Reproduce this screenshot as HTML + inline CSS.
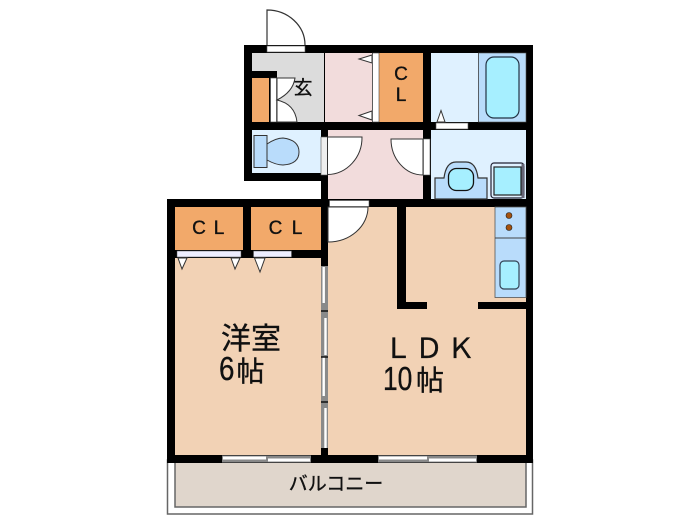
<!DOCTYPE html>
<html><head><meta charset="utf-8">
<style>
html,body{margin:0;padding:0;background:#fff;width:700px;height:525px;overflow:hidden}
svg{display:block;filter:blur(.35px)}
text{font-family:"Liberation Sans","Noto Sans CJK JP",sans-serif;fill:#111;stroke:#111;stroke-width:.35px}
</style></head><body>
<svg width="700" height="525" viewBox="0 0 700 525" xmlns="http://www.w3.org/2000/svg">
<!-- balcony -->
<rect x="167.500" y="460" width="365" height="54" fill="#fff" stroke="#666" stroke-width="1.500"/>
<rect x="175" y="460" width="351" height="47" fill="#e0d6cc" stroke="#666" stroke-width="1.500"/>
<!-- walls base -->
<path d="M244 45H533V463H167V199H321V181H244Z" fill="#000"/>
<!-- floors -->
<rect x="252" y="53" width="72" height="69" fill="#dcdcdc"/>
<rect x="325" y="53" width="47" height="69" fill="#f2dcdc"/>
<rect x="379" y="53" width="44" height="69" fill="#f2a96a"/>
<rect x="431" y="53" width="47" height="69" fill="#dff1ff"/>
<rect x="478.500" y="53" width="47.500" height="69" fill="#b9dcfb" stroke="#555" stroke-width=".6"/>
<rect x="252" y="130" width="69" height="43" fill="#dff1ff"/>
<rect x="328" y="130" width="95" height="69" fill="#f2dcdc"/>
<rect x="431" y="130" width="95" height="69" fill="#dff1ff"/>
<rect x="175" y="207" width="68" height="43" fill="#f2a96a"/>
<rect x="251" y="207" width="70" height="43" fill="#f2a96a"/>
<rect x="175" y="258" width="146" height="197" fill="#f2d2b5"/>
<rect x="328" y="207" width="198" height="248" fill="#f2d2b5"/>
<!-- genkan notch & shoe closet -->
<rect x="252" y="71" width="25" height="7" fill="#000"/>
<rect x="252" y="78" width="17" height="44" fill="#f2a96a"/>
<rect x="269" y="78" width="2" height="44" fill="#000"/>
<rect x="270.500" y="78" width="6" height="44" fill="#fff" stroke="#444" stroke-width=".6"/>
<path d="M277 78H295Q293 92 277 100Q295 104 297 122H277Z" fill="#fff" stroke="#333" stroke-width="1"/>
<!-- entry door -->
<rect x="267" y="46" width="38" height="6" fill="#fff" stroke="#555" stroke-width=".6"/>
<path d="M267 45V10A38 35 0 0 1 305 45" fill="#fff" stroke="#333" stroke-width="1.200"/>
<!-- closet folding door -->
<rect x="372.500" y="53" width="6.500" height="69" fill="#fff" stroke="#444" stroke-width=".6"/>
<path d="M372 55L359 59L372 63ZM372 111L359 115.500L372 120Z" fill="#fff" stroke="#333" stroke-width="1"/>
<!-- bath door -->
<rect x="436" y="123" width="32" height="6" fill="#fff" stroke="#555" stroke-width=".6"/>
<path d="M437 122L441 110.500L445 122Z" fill="#fff" stroke="#333" stroke-width="1"/>
<rect x="486" y="57" width="33" height="61" rx="8" fill="#a6efff" stroke="#234" stroke-width="1.200"/>
<!-- toilet -->
<rect x="321" y="137" width="6.500" height="38" fill="#eee" stroke="#555" stroke-width=".6"/>
<rect x="254" y="135.500" width="13" height="32" fill="#b9dcfb" stroke="#333" stroke-width="1"/>
<path d="M267 144Q276 138 283 138Q299 140 299 152Q299 164 283 165Q276 165 267 160Z" fill="#b9dcfb" stroke="#333" stroke-width="1"/>
<!-- hall doors -->
<path d="M327.500 137H362A35 37 0 0 1 327.500 174.500Z" fill="#fff" stroke="#333" stroke-width="1"/>
<path d="M423 139H391A32 36 0 0 0 423 175Z" fill="#fff" stroke="#333" stroke-width="1"/>
<rect x="423.500" y="139" width="6.500" height="36" fill="#fff" stroke="#555" stroke-width=".6"/>
<!-- washstand -->
<path d="M435 199V178H444Q446 162 456 162H466Q476 162 478 178H487V199Z" fill="#b9dcfb" stroke="#333" stroke-width="1.200"/>
<rect x="448.500" y="168.500" width="25" height="22" rx="8" fill="#a6efff" stroke="#111" stroke-width="1.300"/>
<rect x="491" y="163" width="33" height="35" rx="3" fill="#dff1ff" stroke="#223" stroke-width="1.200"/>
<rect x="521.500" y="164" width="3" height="34" fill="#667"/>
<rect x="494" y="167" width="27" height="28" fill="#a6efff" stroke="#222" stroke-width="1.200"/>
<!-- LDK door -->
<rect x="329.500" y="200.500" width="39.500" height="6" fill="#fff" stroke="#555" stroke-width=".6"/>
<path d="M328 207H368A40 35 0 0 1 328 242Z" fill="#fff" stroke="#333" stroke-width="1"/>
<!-- CL doors -->
<rect x="177" y="251" width="64" height="6" fill="#eef" stroke="#555" stroke-width=".5"/>
<rect x="253.500" y="251" width="38" height="6" fill="#eef" stroke="#555" stroke-width=".5"/>
<path d="M178 258L182 269L187 258ZM231 258L235 269L240 258ZM254.500 258L260 272L265 258Z" fill="#fff" stroke="#333" stroke-width="1"/>
<!-- sliding doors LDK / room -->
<rect x="321" y="266" width="7" height="182" fill="#8a8a8a"/>
<path d="M323.700 267V303M323.700 357V396" stroke="#fff" stroke-width="2.400"/>
<path d="M325.500 318V355M325.500 408V448" stroke="#fff" stroke-width="2.400"/>
<path d="M321 311H328M321 357H328M321 402H328" stroke="#111" stroke-width="1.400"/>
<!-- LDK walls -->
<rect x="397" y="207" width="9" height="102" fill="#000"/>
<rect x="397" y="302" width="30" height="7" fill="#000"/>
<rect x="478" y="302" width="48" height="7" fill="#000"/>
<!-- kitchen -->
<rect x="495" y="207" width="31" height="90.500" fill="#b9dcfb" stroke="#555" stroke-width=".8"/>
<path d="M495 238H526" stroke="#444" stroke-width="1"/>
<circle cx="509" cy="215.500" r="3" fill="#a5520e" stroke="#222" stroke-width=".6"/>
<circle cx="509" cy="227.500" r="3" fill="#a5520e" stroke="#222" stroke-width=".6"/>
<rect x="500" y="261" width="19" height="28" rx="4" fill="#a6efff" stroke="#345" stroke-width="1.200"/>
<!-- windows -->
<g fill="#888">
<rect x="222" y="455.500" width="45" height="7"/>
<rect x="267" y="455.500" width="44" height="7"/>
<rect x="378" y="455.500" width="50" height="7"/>
<rect x="428" y="455.500" width="49" height="7"/>
</g>
<g fill="#fff">
<rect x="223" y="456.500" width="43" height="3"/>
<rect x="268" y="458.500" width="42" height="3"/>
<rect x="379" y="456.500" width="48" height="3"/>
<rect x="429" y="458.500" width="47" height="3"/>
</g>
<!-- labels -->
<text x="401" y="80" font-size="19" text-anchor="middle">C</text>
<text x="401" y="101" font-size="19" text-anchor="middle">L</text>
<text x="303" y="94" font-size="19" text-anchor="middle">玄</text>
<text x="199" y="234" font-size="19" text-anchor="middle">C</text>
<text x="219" y="234" font-size="19" text-anchor="middle">L</text>
<text x="275.500" y="234" font-size="19" text-anchor="middle">C</text>
<text x="297" y="234" font-size="19" text-anchor="middle">L</text>
<text x="221" y="349" font-size="30">洋室</text>
<text transform="translate(219,380) scale(.84,1)" font-size="33">6</text>
<text x="236.500" y="381" font-size="28">帖</text>
<text x="384" y="358" font-size="28">Ｌ</text>
<text x="415" y="358" font-size="28">Ｄ</text>
<text x="447" y="358" font-size="28">Ｋ</text>
<text transform="translate(383,390) scale(.8,1)" font-size="33">10</text>
<text x="416" y="390" font-size="28">帖</text>
<text x="336" y="490" font-size="19" text-anchor="middle">バルコニー</text>
</svg>
</body></html>
